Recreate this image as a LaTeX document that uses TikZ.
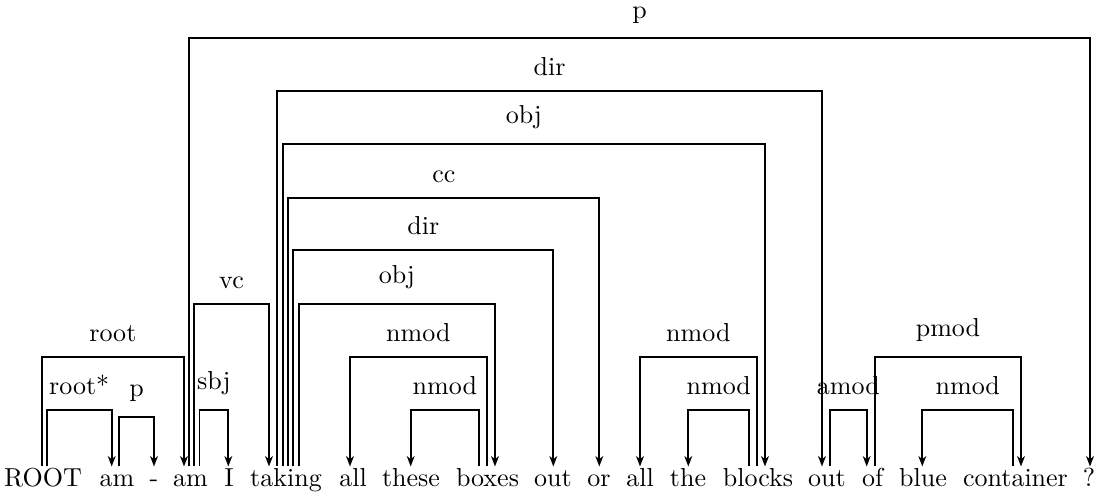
\documentclass[tikz,border=0pt]{standalone}
\usetikzlibrary{arrows.meta,calc}

\tikzset{
  word/.style={anchor=base, inner sep=0pt},
  deparc/.style={line width=0.7pt, -{Stealth[length=4pt,width=3pt,inset=1.2pt]}},
  deplabel/.style={anchor=south, inner sep=0pt, yshift=5.6pt}
}

\begin{document}
\begin{tikzpicture}[x=0.3846pt, y=-0.3846pt]
    \useasboundingbox (0,0) rectangle (1100,498);
    \def\base{486.5}
    \def\foot{20}
    
    % the sentence
    \foreach \x/\w [count=\i from 0] in {43/ROOT, 117/am, 154/-, 190.5/am, 229/I, 286/taking, 353/all, 411/these, 487.5/boxes, 553/out, 599/or, 640/all, 688/the, 758/blocks, 827/out, 872.5/of, 923/blue, 1015.5/container, 1089/?}{
      \node[word] (w\i) at (\x,\base) {\w};
    }
    
    % arcs: head/offset/dependent/offset/height/label
    \foreach \s/\sd/\t/\td/\y/\l [count=\k] in {
        0/3.7/1/-5.3/410/root*,
        0/-1.3/3/-6.5/356.7/root,
        1/2.3/2/0/416.7/p,
        3/9/4/-0.7/410/sbj,
        3/3.5/5/-17/304/vc,
        3/-1.5/18/1/38.3/p,
        5/-8.7/14/-5/90.7/dir,
        5/-3.3/13/7/144.3/obj,
        5/2.3/10/0.3/197.7/cc,
        5/7.3/9/0.3/250/dir,
        5/12.7/8/7.5/304/obj,
        8/-0.8/6/-3/356.7/nmod,
        8/-8.5/7/-0.3/410/nmod,
        13/-1.3/11/0/356.7/nmod,
        13/-8.7/12/0.3/410/nmod,
        14/3/15/-5.8/410/amod,
        15/2.5/17/5.5/356.7/pmod,
        17/-2.2/16/-0.7/410/nmod}{
      \coordinate (src) at ($(w\s.base)+(\sd,-\foot)$);
      \coordinate (tgt) at ($(w\t.base)+(\td,-\foot)$);
      \draw[deparc] (src) -- (src |- 0,\y) -- (tgt |- 0,\y) -- (tgt);
      \coordinate (mid) at ($(src |- 0,\y)!.5!(tgt |- 0,\y)$);
      \node[deplabel] (lab\k) at (mid) {\l};
    }
  \end{tikzpicture}
\end{document}
